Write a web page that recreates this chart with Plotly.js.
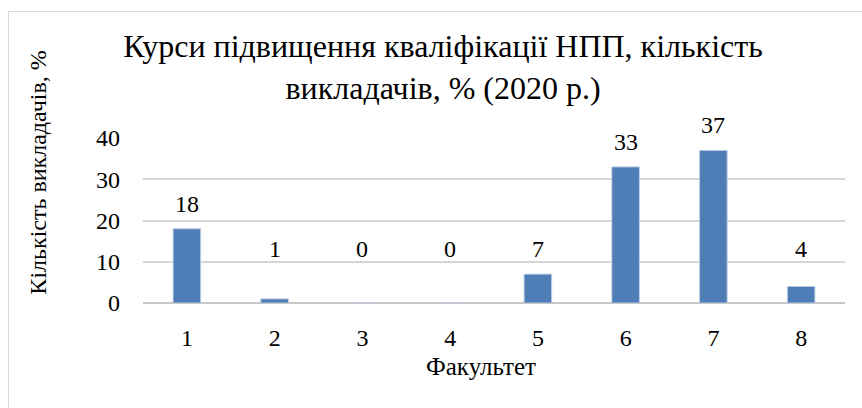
<!DOCTYPE html>
<html>
<head>
<meta charset="utf-8">
<script src="https://cdn.plot.ly/plotly-3.0.1.min.js"></script>
<style>
  html, body { margin: 0; padding: 0; overflow: hidden; background: #fff; }
  #frame { position: absolute; left: 8px; top: 11px; width: 900px; height: 500px;
           border: 1px solid #d9d9d9; pointer-events: none; }
  #plotArea { position: absolute; left: 0; top: 0; width: 862px; height: 408px; }
</style>
</head>
<body>
<div id="frame"></div>
<div id="plotArea"></div>
<script>
// Faculties and share of teachers, %
var faculties = ["1", "2", "3", "4", "5", "6", "7", "8"];
var teachersPct = [18, 1, 0, 0, 7, 33, 37, 4];

var font = "Liberation Serif";

var trace = {
    x: faculties,
    y: teachersPct,
    type: "bar",
    marker: {color: "#4f7db6", line: {color: "#b9cce4", width: 1}},
    hoverinfo: "none"
};

// value labels above bars (small values lifted a bit, like in the original)
var labels = faculties.map((f, i) => ({
    x: i,
    y: Math.max(teachersPct[i], 7),
    text: String(teachersPct[i]),
    showarrow: false,
    xanchor: "center",
    yanchor: "bottom",
    yshift: 10,
    font: {family: font, size: 24, color: "#000"}
}));

// axis titles as annotations (offset like the original)
labels.push({
    xref: "paper", yref: "paper",
    x: -0.1496, y: 0.79,
    xanchor: "center", yanchor: "middle",
    text: "Кількість викладачів, %",
    textangle: -90,
    showarrow: false,
    font: {family: font, size: 24, color: "#000"}
});
labels.push({
    xref: "paper", yref: "paper",
    x: 0.481, y: -0.384,
    xanchor: "center", yanchor: "middle",
    text: "Факультет",
    showarrow: false,
    font: {family: font, size: 25, color: "#000"}
});

var layout = {
    width: 862,
    height: 408,
    margin: {l: 143, r: 17, t: 138, b: 105},
    paper_bgcolor: "rgba(0,0,0,0)",
    plot_bgcolor: "rgba(0,0,0,0)",
    showlegend: false,
    bargap: 0.686,
    title: {
        text: "Курси підвищення кваліфікації НПП, кількість<br>викладачів, % (2020 р.)",
        font: {family: font, size: 32, color: "#000"},
        x: 0.514, xanchor: "center",
        y: 1 - 57 / 408, yanchor: "middle"
    },
    xaxis: {
        type: "category",
        showgrid: false,
        showline: false,
        ticks: "",
        ticklabelstandoff: 18,
        tickfont: {family: font, size: 24, color: "#000"}
    },
    yaxis: {
        range: [0, 40],
        tickvals: [0, 10, 20, 30, 40],
        showgrid: true,
        gridcolor: "#d6d6d6",
        gridwidth: 2,
        zeroline: true,
        zerolinecolor: "#c8c8c8",
        zerolinewidth: 2,
        showline: false,
        ticks: "",
        ticklabelstandoff: 22,
        tickfont: {family: font, size: 24, color: "#000"}
    },
    annotations: labels
};

Plotly.newPlot("plotArea", [trace], layout, {displayModeBar: false, staticPlot: true});
</script>
</body>
</html>
